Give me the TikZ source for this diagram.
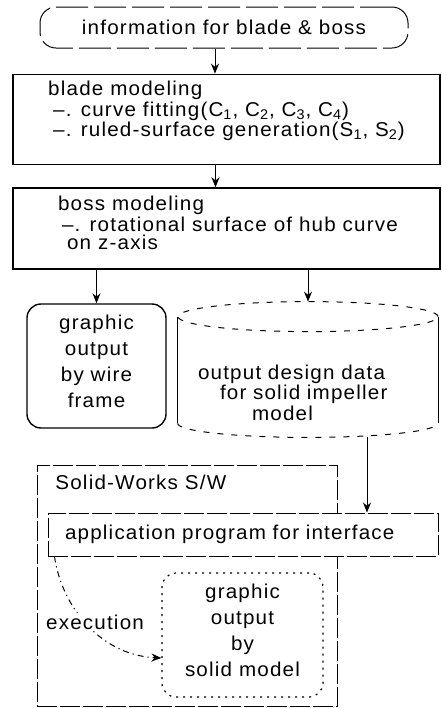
\documentclass[tikz,border=0pt]{standalone}
\usepackage{fontspec}
\setmainfont{Liberation Sans}[FakeStretch=1.03,LetterSpace=6]
\usepackage{tikz}
\usetikzlibrary{arrows.meta,positioning,calc}

\begin{document}
\begin{tikzpicture}[
  x=0.5pt,y=-0.5pt,
  font=\fontsize{10}{9}\selectfont,
  stage/.style={draw,line width=0.75pt,align=left,inner xsep=8.5pt},
  roundout/.style={draw,rounded corners=7pt,align=center,font=\fontsize{10}{13}\selectfont},
  loose/.style={dash pattern=on 10pt off 1.5pt,line width=0.5pt},
  cyledge/.style={dash pattern=on 3pt off 4pt,line width=0.5pt},
  >={Stealth[length=5pt,width=4pt]}
]
\useasboundingbox (0,0) rectangle (441,708);

% main flow
\node[draw,line width=0.5pt,dash pattern=on 16pt off 3pt,rounded corners=8pt,
  minimum width=184pt,minimum height=20.5pt] (info) at (224,27.5)
  {information for blade \& boss};
\node[stage,minimum width=213.5pt,minimum height=43.5pt,text depth=10.6pt] (blade) at (226.5,119.5)
  {blade modeling\\
   \hspace*{2.5pt}--. curve fitting(C\textsubscript{1}, C\textsubscript{2}, C\textsubscript{3}, C\textsubscript{4})\\
   \hspace*{2.5pt}--. ruled-surface generation(S\textsubscript{1}, S\textsubscript{2})};
\node[stage,minimum width=213.5pt,minimum height=40.5pt,text depth=6pt] (boss) at (226.5,228.5)
  {\hspace*{1.5pt}boss modeling\\
   \hspace*{3.5pt}--. rotational surface of hub curve\\
   \hspace*{6pt}on z-axis};

\draw[->,line width=0.5pt] ([xshift=-4.5pt]info.south) -- ([xshift=-4.5pt]info.south |- blade.north);
\draw[->,line width=0.5pt] ([xshift=-5.5pt]blade.south) -- ([xshift=-5.5pt]blade.south |- boss.north);

% outputs
\node[roundout,line width=0.7pt,minimum width=69.5pt,minimum height=62pt,text depth=5pt] (wire) at (96.5,366)
  {graphic\\output\\by wire\\frame};
\node[minimum width=130pt,minimum height=67.5pt,inner xsep=10pt,text width=110pt,align=left,text height=30.3pt] (data) at (308,369.5)
  {output design data\\
   \hspace*{11pt}for solid impeller\\
   \hspace*{27pt}model};
\draw[cyledge] ([yshift=-7.5pt]data.north) ellipse [x radius=65pt,y radius=7.5pt];
\draw[line width=0.6pt] ([yshift=-7.5pt]data.north west) -- ([yshift=7pt]data.south west);
\draw[line width=0.6pt] ([yshift=-7.5pt]data.north east) -- ([yshift=7pt]data.south east);
\draw[cyledge] ([yshift=7pt]data.south west) arc[start angle=180,end angle=360,x radius=65pt,y radius=7pt];

\draw[->,line width=0.5pt] (boss.south -| wire.north) -- (wire.north);
\draw[->,line width=0.5pt] (boss.south -| data.north) -- (data.north);

% Solid-Works part
\node[draw,loose,minimum width=150pt,minimum height=120.5pt] (sw) at (187,585.5) {};
\node[anchor=west,inner sep=0pt] (swname) at (55,482) {Solid-Works S/W};
\node[draw,loose,fill=white,minimum width=195pt,minimum height=21.5pt,
  text width=178pt,inner xsep=8.5pt,align=left] (app) at (243,534.5)
  {application program for interface};
\draw[->,line width=0.5pt] ([xshift=29.5pt]data.south) -- ([xshift=29.5pt]data.south |- app.north);

\node[roundout,dash pattern=on 1pt off 2.5pt,line width=0.6pt,minimum width=80.5pt,minimum height=62pt,text depth=4.5pt] (solidout) at (242.5,635)
  {graphic\\output\\by\\solid model};

\draw[->,dash pattern=on 3pt off 2pt on 0.6pt off 2pt,line width=0.5pt]
  ([xshift=3.5pt]app.south west) .. controls +(3.5pt,-24.5pt) and +(-31pt,1.5pt) .. ([yshift=-11.5pt]solidout.west);
\node[fill=white,inner sep=1pt] (exec) at (95,622) {execution};
\end{tikzpicture}
\end{document}
